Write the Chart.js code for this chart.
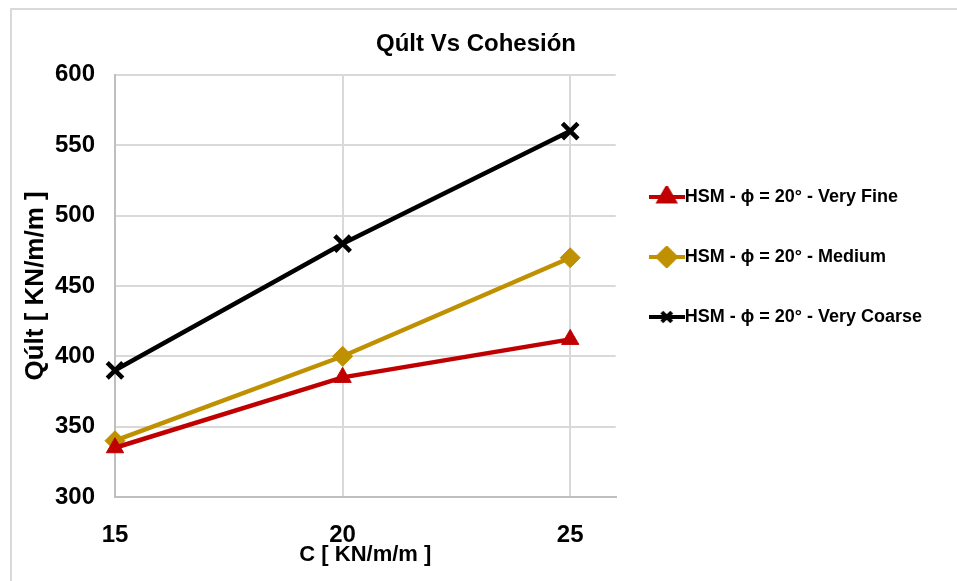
<!DOCTYPE html>
<html>
<head>
<meta charset="utf-8">
<script src="https://cdn.jsdelivr.net/npm/chart.js@4.4.0/dist/chart.umd.min.js"></script>
<style>
    html, body { margin: 0; padding: 0; background: #fff; }
    #wrap { position: relative; width: 957px; height: 581px; }
    #marco { position: absolute; left: 10px; top: 8px; right: 0; bottom: 0;
             border-left: 2px solid #d9d9d9; border-top: 2px solid #d9d9d9; }
    canvas { position: absolute; left: 0; top: 0; }
</style>
</head>
<body>
<div id="wrap">
    <div id="marco"></div>
    <canvas id="grafico" width="957" height="581"></canvas>
</div>
<script>
// --- Dados ---
const cohesion = [15, 20, 25];
const muyFina = [335, 385, 412];
const media = [340, 400, 470];
const muyGruesa = [390, 480, 560];
const nombres = ['HSM - \u03d5 = 20° - Very Fine', 'HSM - \u03d5 = 20° - Medium', 'HSM - \u03d5 = 20° - Very Coarse'];
const yTicks = [300, 350, 400, 450, 500, 550, 600];

const FUENTE = "'Liberation Sans Narrow', 'Liberation Sans', Arial, sans-serif";
const colores = ['#c00000', '#bf9000', '#000000'];
const estilos = ['triangle', 'rectRot', 'crossRot'];

// icono da legenda: linha + marcador (estilo Excel)
function iconoLeyenda(color, estilo) {
    const c = document.createElement('canvas');
    c.width = 36; c.height = 22;
    const g = c.getContext('2d');
    g.strokeStyle = color;
    g.fillStyle = color;
    g.lineWidth = 4;
    g.beginPath();
    g.moveTo(0, 11); g.lineTo(36, 11);
    g.stroke();
    Chart.helpers.drawPoint(g, {
        pointStyle: estilo,
        radius: estilo === 'crossRot' ? 7 : 9,
        borderWidth: estilo === 'crossRot' ? 4 : 1,
        rotation: 0
    }, 18, 11);
    return c;
}

function serie(label, datos, i) {
    const cruz = estilos[i] === 'crossRot';
    return {
        label: label,
        data: cohesion.map((x, k) => ({ x: x, y: datos[k] })),
        borderColor: colores[i],
        backgroundColor: colores[i],
        borderWidth: 4.5,
        pointStyle: estilos[i],
        pointRadius: cruz ? 11 : 10,
        pointBorderWidth: cruz ? 4.5 : 1,
        pointBorderColor: colores[i],
        pointBackgroundColor: colores[i],
        clip: false
    };
}

const ctx = document.getElementById('grafico').getContext('2d');
new Chart(ctx, {
    type: 'line',
    data: {
        datasets: [
            serie(nombres[0], muyFina, 0),
            serie(nombres[1], media, 1),
            serie(nombres[2], muyGruesa, 2)
        ]
    },
    options: {
        responsive: false,
        animation: false,
        layout: { padding: { left: 20, right: 25, top: 14, bottom: 8 } },
        plugins: {
            title: {
                display: true,
                text: 'Qúlt Vs Cohesión',
                color: '#000',
                font: { family: FUENTE, size: 24, weight: 'bold' },
                padding: { top: 16, bottom: 16 }
            },
            legend: {
                position: 'right',
                align: 'start',
                maxWidth: 341,
                title: { display: true, text: '', font: { size: 10 }, padding: { top: 120, bottom: 0 } },
                labels: {
                    usePointStyle: true,
                    pointStyleWidth: 18,
                    padding: 42,
                    color: '#000',
                    font: { family: FUENTE, size: 18, weight: 'bold' },
                    generateLabels: (chart) => chart.data.datasets.map((ds, i) => ({
                        text: ds.label,
                        pointStyle: iconoLeyenda(colores[i], estilos[i]),
                        fillStyle: colores[i],
                        strokeStyle: colores[i],
                        lineWidth: 0,
                        hidden: false,
                        fontColor: '#000',
                        datasetIndex: i
                    }))
                }
            },
            tooltip: { enabled: false }
        },
        scales: {
            x: {
                type: 'linear',
                min: 15,
                max: 26,
                afterBuildTicks: (s) => { s.ticks = cohesion.map(v => ({ value: v })); },
                afterFit: (s) => { s.height = 76; },
                grid: { color: '#d9d9d9', lineWidth: 2, drawTicks: false },
                border: { color: '#bfbfbf', width: 2 },
                ticks: { padding: 24, color: '#000', font: { family: FUENTE, size: 24, weight: 'bold' } },
                title: {
                    display: true,
                    text: 'C [ KN/m/m ]',
                    color: '#000',
                    font: { family: FUENTE, size: 22, weight: 'bold' },
                    padding: { top: 0, bottom: 5 }
                }
            },
            y: {
                min: 300,
                max: 600,
                afterBuildTicks: (s) => { s.ticks = yTicks.map(v => ({ value: v })); },
                afterFit: (s) => { s.width = 95; },
                grid: { color: '#d9d9d9', lineWidth: 2, drawTicks: false },
                border: { color: '#bfbfbf', width: 2 },
                ticks: { padding: 20, color: '#000', font: { family: FUENTE, size: 24, weight: 'bold' } },
                title: {
                    display: true,
                    text: 'Qúlt [ KN/m/m ]',
                    color: '#000',
                    font: { family: FUENTE, size: 26, weight: 'bold' },
                    padding: { top: 0, bottom: 0 }
                }
            }
        }
    }
});
</script>
</body>
</html>
